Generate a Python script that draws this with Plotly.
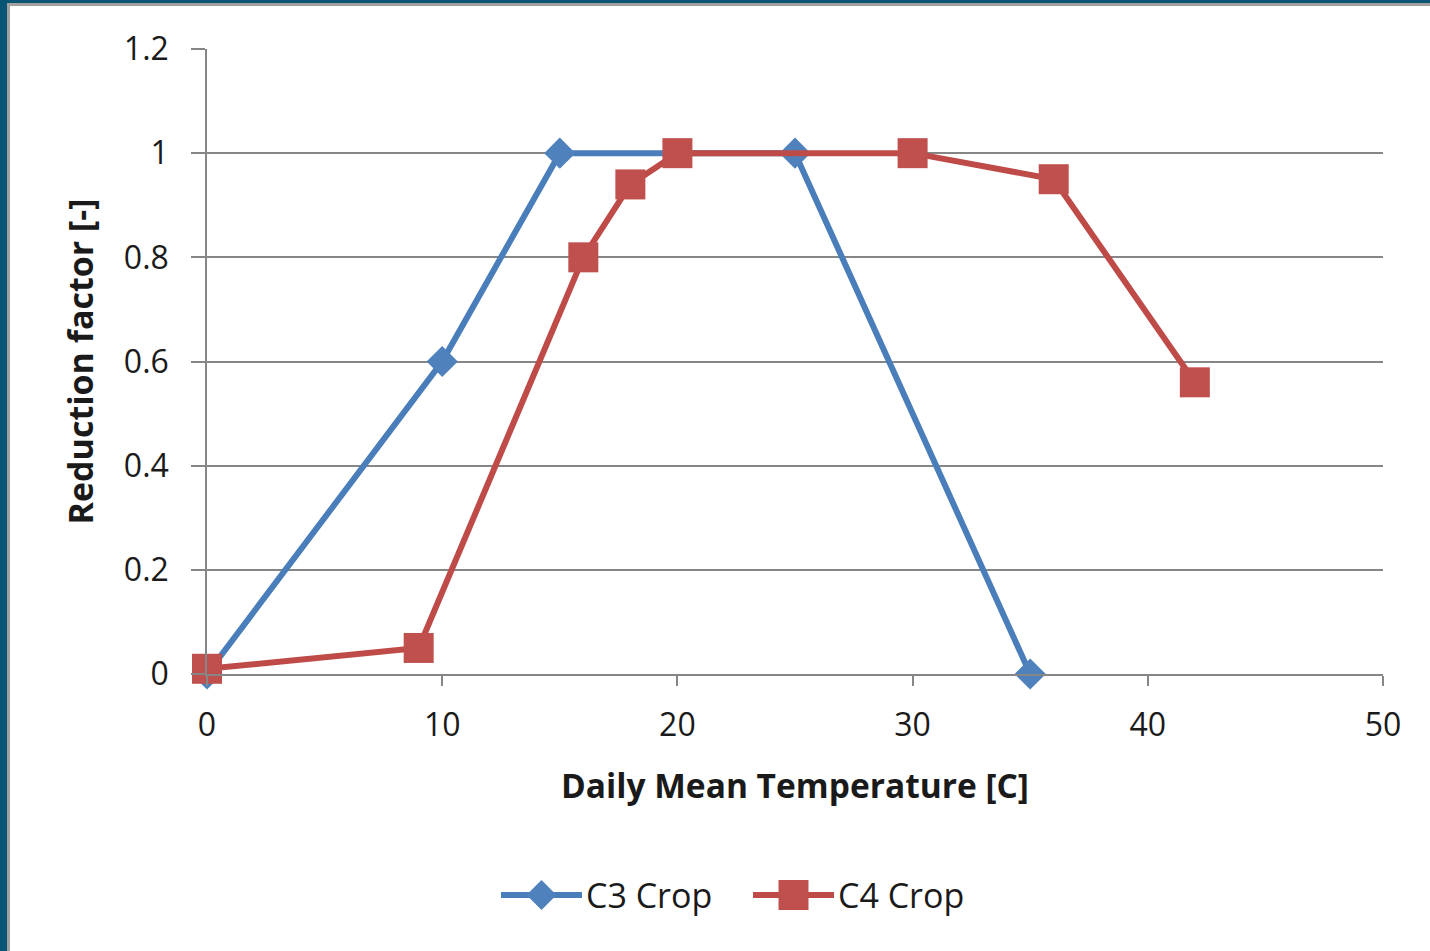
import plotly.graph_objects as go

c3_x = [0, 10, 15, 25, 35]
c3_y = [0, 0.6, 1.0, 1.0, 0]
c4_x = [0, 9, 16, 18, 20, 30, 36, 42]
c4_y = [0.01, 0.05, 0.8, 0.94, 1.0, 1.0, 0.95, 0.56]
y_ticks = [0, 0.2, 0.4, 0.6, 0.8, 1.0, 1.2]
y_tick_text = ["0", "0.2", "0.4", "0.6", "0.8", "1", "1.2"]
x_ticks = [0, 10, 20, 30, 40, 50]
series_names = ["C3 Crop", "C4 Crop"]

W, H = 1430, 951
L, R, T, B = 207, 1383, 49, 674
pw, ph = R - L, B - T

def px(x):
    return (x - L) / pw

def py(y):
    return (B - y) / ph

FONT = "Open Sans"
BLUE_L, BLUE_M = "#4A7EBB", "#4F81BD"
RED_L, RED_M = "#BE4B48", "#C0504D"

fig = go.Figure()
fig.add_trace(go.Scatter(
    x=c3_x, y=c3_y, name=series_names[0], mode="lines+markers",
    line=dict(color=BLUE_L, width=6),
    marker=dict(symbol="diamond", size=24, color=BLUE_M),
    cliponaxis=False, showlegend=False,
))
fig.add_trace(go.Scatter(
    x=c4_x, y=c4_y, name=series_names[1], mode="lines+markers",
    line=dict(color=RED_L, width=6),
    marker=dict(symbol="square", size=30, color=RED_M),
    cliponaxis=False, showlegend=False,
))

shapes = [
    dict(type="rect", xref="paper", yref="paper", x0=px(0), x1=px(7), y0=py(0), y1=py(H), fillcolor="#0B5574", line_width=0, layer="below"),
    dict(type="rect", xref="paper", yref="paper", x0=px(0), x1=px(W), y0=py(0), y1=py(3), fillcolor="#0B5574", line_width=0, layer="below"),
    dict(type="rect", xref="paper", yref="paper", x0=px(7), x1=px(10), y0=py(3), y1=py(H), fillcolor="#A0A0A0", line_width=0, layer="below"),
    dict(type="rect", xref="paper", yref="paper", x0=px(7), x1=px(W), y0=py(3), y1=py(6), fillcolor="#A0A0A0", line_width=0, layer="below"),
]

# custom legend (decoration)
ly = 895
annotations = []
legend_items = [
    (series_names[0], 501, 582, BLUE_L, BLUE_M, "diamond"),
    (series_names[1], 753, 834, RED_L, RED_M, "square"),
]
for name, x0, x1, lc, mc, sym in legend_items:
    shapes.append(dict(type="line", xref="paper", yref="paper", x0=px(x0), x1=px(x1), y0=py(ly), y1=py(ly),
                       line=dict(color=lc, width=6)))
    cx = (x0 + x1) / 2
    r = 15
    if sym == "diamond":
        path = f"M{px(cx - r)},{py(ly)} L{px(cx)},{py(ly - r)} L{px(cx + r)},{py(ly)} L{px(cx)},{py(ly + r)} Z"
        shapes.append(dict(type="path", xref="paper", yref="paper", path=path, fillcolor=mc, line_width=0))
    else:
        shapes.append(dict(type="rect", xref="paper", yref="paper", x0=px(cx - r), x1=px(cx + r),
                           y0=py(ly - r), y1=py(ly + r), fillcolor=mc, line_width=0))
    annotations.append(dict(text=name, xref="paper", yref="paper", x=px(x1 + 2), y=py(ly), xanchor="left",
                            yanchor="middle", showarrow=False, font=dict(size=34, family=FONT, color="#1a1a1a")))

fig.update_layout(
    width=W, height=H,
    margin=dict(l=L, r=W - R, t=T, b=H - B),
    paper_bgcolor="white", plot_bgcolor="white",
    font=dict(family=FONT, size=32, color="#1a1a1a"),
    showlegend=False,
    shapes=shapes,
    annotations=annotations,
    xaxis=dict(range=[0, 50], tickvals=x_ticks, showgrid=False, zeroline=False,
               showline=True, linecolor="#868686", linewidth=1.5,
               ticks="outside", ticklen=10, tickcolor="#868686", tickwidth=1.5,
               ticklabelstandoff=12,
               tickfont=dict(size=32),
               title=dict(text="<b>Daily Mean Temperature [C]</b>", font=dict(size=33.5), standoff=30)),
    yaxis=dict(range=[0, 1.2], tickvals=y_ticks, ticktext=y_tick_text, showgrid=True,
               gridcolor="#868686", gridwidth=1.5, zeroline=False,
               showline=True, linecolor="#868686", linewidth=1.5,
               ticks="outside", ticklen=14, tickcolor="#868686", tickwidth=1.5,
               ticklabelstandoff=16,
               tickfont=dict(size=32),
               title=dict(text="<b>Reduction factor [-]</b>", font=dict(size=34), standoff=20)),
)

fig.write_html("out.html")
